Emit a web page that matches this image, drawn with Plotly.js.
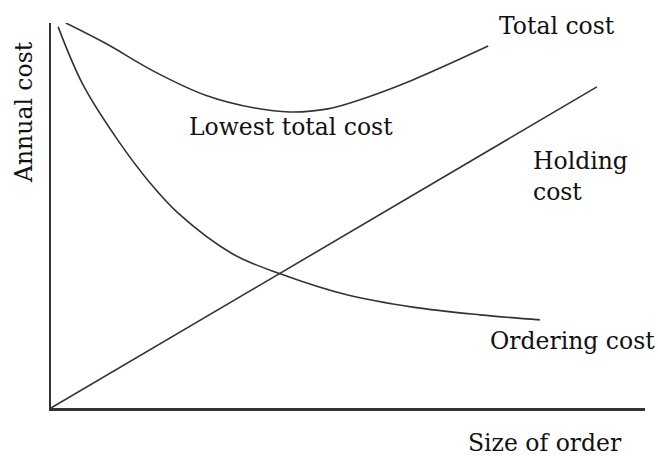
<!DOCTYPE html>
<html>
<head>
<meta charset="utf-8">
<script src="https://cdn.plot.ly/plotly-3.0.1.min.js"></script>
<style>
  html, body { margin: 0; padding: 0; background: #fff; }
  #chart { width: 658px; height: 456px; }
</style>
</head>
<body>
<div id="chart"></div>
<script>
// Size of order (x) and annual cost (y), arbitrary units 0-100
const holdingX = [0, 91.9];
const holdingY = [0, 83.4];

const orderingX = [1.2, 5.4, 11.1, 16.7, 21.4, 30.6, 38.7, 49.8, 60.9, 72.2, 82.3];
const orderingY = [99.0, 83.9, 69.9, 58.4, 50.6, 40.0, 34.8, 29.4, 26.2, 24.2, 22.9];

const totalX = [2.5, 9.1, 17.5, 25.9, 34.3, 40.2, 46.6, 53.4, 60.9, 73.6];
const totalY = [100.0, 94.8, 87.3, 81.3, 77.9, 76.9, 77.7, 80.8, 85.2, 94.0];

const W = 658, H = 456;
const M = { l: 51, r: 13, t: 23, b: 48 };
const px2paperX = px => (px - M.l) / (W - M.l - M.r);
const px2paperY = py => (H - M.b - py) / (H - M.t - M.b);

const lineStyle = { color: '#333333', width: 1.6, shape: 'spline', smoothing: 1 };

const traces = [
  { x: holdingX, y: holdingY, mode: 'lines', line: { color: '#333333', width: 1.6 }, hoverinfo: 'skip', name: 'Holding cost' },
  { x: orderingX, y: orderingY, mode: 'lines', line: lineStyle, hoverinfo: 'skip', name: 'Ordering cost' },
  { x: totalX, y: totalY, mode: 'lines', line: lineStyle, hoverinfo: 'skip', name: 'Total cost' }
];

const FONT = { family: '"DejaVu Serif", "Liberation Serif", serif', size: 23.5, color: '#111111' };

function ann(text, px, py, xanchor, extra) {
  return Object.assign({
    text: text, xref: 'paper', yref: 'paper',
    x: px2paperX(px), y: px2paperY(py),
    xanchor: xanchor || 'center', yanchor: 'middle',
    showarrow: false, font: FONT, align: 'left'
  }, extra || {});
}

const layout = {
  width: W, height: H,
  margin: M,
  paper_bgcolor: '#ffffff', plot_bgcolor: '#ffffff',
  showlegend: false,
  xaxis: { range: [0, 100], showline: true, linecolor: '#333333', linewidth: 2.5,
           showgrid: false, zeroline: false, showticklabels: false, ticks: '', fixedrange: true },
  yaxis: { range: [0, 100], showline: true, linecolor: '#333333', linewidth: 1.6,
           showgrid: false, zeroline: false, showticklabels: false, ticks: '', fixedrange: true },
  annotations: [
    ann('Total cost', 557, 26),
    ann('Lowest total cost', 291, 127),
    ann('Holding<br>cost', 531, 176, 'left'),
    ann('Ordering cost', 572, 341),
    ann('Size of order', 545, 443),
    ann('Annual cost', 24, 112, 'center', { textangle: -90 })
  ]
};

Plotly.newPlot('chart', traces, layout, { staticPlot: true, displayModeBar: false });
</script>
</body>
</html>
